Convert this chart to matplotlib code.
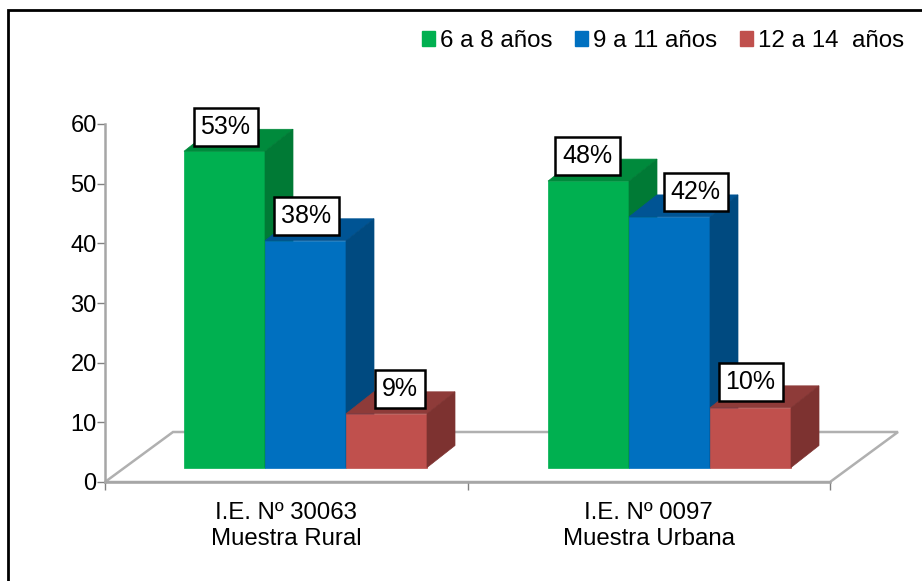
import matplotlib
matplotlib.use("Agg")
import matplotlib.pyplot as plt
from matplotlib.patches import Patch, Polygon, Rectangle

plt.rcParams['font.family'] = ['Liberation Sans', 'DejaVu Sans']

categories = ["I.E. Nº 30063\nMuestra Rural", "I.E. Nº 0097\nMuestra Urbana"]
series_names = ["6 a 8 años", "9 a 11 años", "12 a 14  años"]
series_rural = [53, 38, 9]
series_urbana = [48, 42, 10]
yticks = [0, 10, 20, 30, 40, 50, 60]

front_colors = ['#00B050', '#0070C0', '#C0504D']
top_colors = ['#008A3C', '#005494', '#8E3B39']
side_colors = ['#007A35', '#004A80', '#7D3230']

W, H = 922, 581
AX_L, AX_R, AX_T, AX_B = 105, 830, 124, 482

# depth of the fake 3d, in data units
px_x = 2 / (AX_R - AX_L)
px_y = 60 / (AX_B - AX_T)
floor_dx, floor_dy = 68 * px_x, 50 * px_y
bar_dx, bar_dy = 28 * px_x, 22 * px_y
base = 14.5 * px_y
bar_w = 81 * px_x
first_left = 79 * px_x
group_step = 364 * px_x

# label offsets from the bar front top centre, pixels
label_offsets = [[(1, 24), (1, 25), (13, 25)], [(-1, 25), (26, 25), (0, 26)]]


def draw_bar(ax, left, value, i):
    right = left + bar_w
    top = base + value
    ax.bar(left, value, bar_w, bottom=base, align='edge', color=front_colors[i],
           edgecolor=front_colors[i], linewidth=0.5, zorder=3)
    ax.add_patch(Polygon([(left, top), (right, top), (right + bar_dx, top + bar_dy), (left + bar_dx, top + bar_dy)],
                         closed=True, facecolor=top_colors[i], edgecolor=top_colors[i], lw=0.5, zorder=3))
    ax.add_patch(Polygon([(right, base), (right, top), (right + bar_dx, top + bar_dy), (right + bar_dx, base + bar_dy)],
                         closed=True, facecolor=side_colors[i], edgecolor=side_colors[i], lw=0.5, zorder=3))


def main():
    fig = plt.figure(figsize=(W / 100, H / 100), dpi=100)
    frame = Rectangle((8 / W, -20 / H), (W + 10) / W, (H + 10) / H, transform=fig.transFigure,
                      facecolor='white', edgecolor='black', linewidth=2, zorder=-1)
    fig.add_artist(frame)
    ax = fig.add_axes([AX_L / W, 1 - AX_B / H, (AX_R - AX_L) / W, (AX_B - AX_T) / H])
    ax.patch.set_alpha(0)
    ax.set_xlim(0, 2)
    ax.set_ylim(0, 60)

    ax.add_patch(Polygon([(0, 0), (floor_dx, floor_dy), (2 + floor_dx, floor_dy), (2, 0)], closed=True,
                         facecolor='white', edgecolor='#B0B0B0', linewidth=1.8, clip_on=False, zorder=1))

    for g, values in enumerate([series_rural, series_urbana]):
        for i, value in enumerate(values):
            left = first_left + g * group_step + i * bar_w
            draw_bar(ax, left, value, i)
            off = label_offsets[g][i]
            ax.annotate(f"{value}%", (left + bar_w / 2, base + value), xytext=off, textcoords='offset pixels',
                        ha='center', va='center', fontsize=18, zorder=5,
                        bbox=dict(boxstyle='square,pad=0.28', facecolor='white', edgecolor='black', linewidth=1.8))

    for s in ('top', 'right'):
        ax.spines[s].set_visible(False)
    for s in ('left', 'bottom'):
        ax.spines[s].set_color('#A6A6A6')
        ax.spines[s].set_linewidth(1.8)
        ax.spines[s].set_zorder(2)

    ax.set_yticks(yticks)
    ax.set_xticks([0, 1, 2])
    ax.set_xticklabels([])
    ax.set_xticks([0.5, 1.5], categories, minor=True)
    ax.tick_params(axis='x', which='major', length=6, width=1, color='#808080')
    ax.tick_params(axis='x', which='minor', length=0, pad=14.5, labelsize=17.3)
    ax.tick_params(axis='y', length=6, width=1, color='#808080', labelsize=17, pad=0)
    for label in ax.get_xticklabels(minor=True):
        label.set_linespacing(1.25)

    handles = [Patch(facecolor=c, edgecolor=c, label=n) for c, n in zip(front_colors, series_names)]
    fig.legend(handles=handles, loc='center right', bbox_to_anchor=(904 / W, 1 - 41 / H), ncol=3, frameon=False,
               fontsize=17.4, handlelength=0.56, handleheight=0.56, handletextpad=0.2, columnspacing=0.92,
               borderpad=0, borderaxespad=0)

    fig.savefig("out.png", dpi=100)


if __name__ == "__main__":
    main()
